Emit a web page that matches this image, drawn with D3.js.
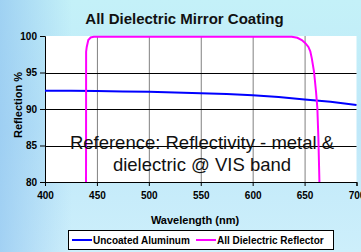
<!DOCTYPE html>
<html><head><meta charset="utf-8">
<script src="https://cdn.jsdelivr.net/npm/d3@7"></script>
<style>html,body{margin:0;padding:0;overflow:hidden}svg{display:block}</style>
</head><body>
<script>
const title = "All Dielectric Mirror Coating";
const xTicks = [400,450,500,550,600,650,700];
const yTicks = [80,85,90,95,100];
const seriesNames = ["Uncoated Aluminum","All Dielectric Reflector"];
const alWave = [400,425,450,475,500,525,550,575,600,625,650,675,700];
const alRefl = [92.5,92.5,92.45,92.4,92.35,92.25,92.15,92.05,91.9,91.65,91.3,91.0,90.55];
const diWave = [439.5,439.6,440.2,441.7,444,447,450,500,550,600,630,637.7,643,647.3,650.5,653.7,655.5,657,659.1,661,662.3,663.3,664.3,665.3];
const diRefl = [75,97.85,98.5,99.45,99.8,99.9,99.9,99.9,99.9,99.9,99.9,99.9,99.75,99.45,99.05,98.5,97.9,96.9,95.1,92.4,90.1,86,80,75];
const noteLines = ["Reference: Reflectivity - metal &","dielectric @ VIS band"];

const W=361,H=252;
const svg=d3.select("body").append("svg").attr("width",W).attr("height",H);
const defs=svg.append("defs");
const g1=defs.append("linearGradient").attr("id","bgv").attr("x1",0).attr("y1",0).attr("x2",0).attr("y2",1);
g1.append("stop").attr("offset",0).attr("stop-color","#c4f1f8");
g1.append("stop").attr("offset",0.5).attr("stop-color","#bfe8f9");
g1.append("stop").attr("offset",1).attr("stop-color","#cdeffb");
const g2=defs.append("linearGradient").attr("id","bgh").attr("x1",0).attr("y1",0).attr("x2",1).attr("y2",0);
g2.append("stop").attr("offset",0).attr("stop-color","#90c4f0").attr("stop-opacity",0.7);
g2.append("stop").attr("offset",0.2).attr("stop-color","#90c4f0").attr("stop-opacity",0);
svg.append("rect").attr("width",W).attr("height",H).attr("fill","url(#bgv)");
svg.append("rect").attr("width",W).attr("height",H).attr("fill","url(#bgh)");

const L=45,R=356.5,T=36,B=182;
const x=d3.scaleLinear().domain([400,700]).range([L,R]);
const y=d3.scaleLinear().domain([80,100]).range([B,T]);

svg.append("rect").attr("x",L).attr("y",T).attr("width",R-L).attr("height",B-T).attr("fill","#fff");

// gridlines
svg.append("g").selectAll("line").data(xTicks.filter(d=>d>400&&d<700)).join("line")
  .attr("x1",d=>x(d)+0.5).attr("x2",d=>x(d)+0.5).attr("y1",T).attr("y2",B)
  .attr("stroke","#808080").attr("stroke-width",1);
svg.append("g").selectAll("line").data(yTicks.filter(d=>d>80&&d<100)).join("line")
  .attr("x1",L).attr("x2",R).attr("y1",d=>Math.round(y(d))+0.5).attr("y2",d=>Math.round(y(d))+0.5)
  .attr("stroke","#000").attr("stroke-width",1);

// axes
const fontF="'Liberation Sans', Arial, sans-serif";
const ya=svg.append("g").attr("transform",`translate(${L},0)`)
  .call(d3.axisLeft(y).tickValues(yTicks).tickSize(5).tickPadding(3).tickFormat(d3.format("d")));
ya.select(".domain").attr("stroke","#000");
ya.selectAll("line").attr("stroke","#000");
ya.selectAll("text").attr("font-family",fontF).attr("font-size",10).attr("font-weight","bold").attr("fill","#000");
const xa=svg.append("g").attr("transform",`translate(0,${B})`)
  .call(d3.axisBottom(x).tickValues(xTicks).tickSize(4).tickPadding(6).tickFormat(d3.format("d")));
xa.select(".domain").attr("stroke","#000");
xa.selectAll("line").attr("stroke","#000");
xa.selectAll("text").attr("font-family",fontF).attr("font-size",10).attr("font-weight","bold").attr("fill","#000");

// clip
defs.append("clipPath").attr("id","clip").append("rect").attr("x",L).attr("y",T-3).attr("width",R-L+2).attr("height",B-T+3);

const line=d3.line().x(d=>x(d[0])).y(d=>y(d[1]));
const plot=svg.append("g").attr("clip-path","url(#clip)");
plot.append("path").datum(alWave.map((w,i)=>[w,alRefl[i]])).attr("d",line)
  .attr("fill","none").attr("stroke","#0000ff").attr("stroke-width",2);
plot.append("path").datum(diWave.map((w,i)=>[w,diRefl[i]])).attr("d",line)
  .attr("fill","none").attr("stroke","#ff00ff").attr("stroke-width",2);

// note
svg.append("g").selectAll("text").data(noteLines).join("text")
  .attr("x",202).attr("y",(d,i)=>149+i*22).attr("text-anchor","middle")
  .attr("font-family",fontF).attr("font-size",18.5).attr("fill","#111").text(d=>d);

// title
svg.append("text").attr("x",184.5).attr("y",24).attr("text-anchor","middle")
  .attr("font-family",fontF).attr("font-size",15).attr("font-weight","bold").attr("fill","#111").text(title);
svg.append("text").attr("x",195).attr("y",224).attr("text-anchor","middle")
  .attr("font-family",fontF).attr("font-size",11).attr("font-weight","bold").attr("fill","#000").text("Wavelength (nm)");
svg.append("text").attr("transform","translate(22,105) rotate(-90)").attr("text-anchor","middle")
  .attr("font-family",fontF).attr("font-size",11).attr("font-weight","bold").attr("fill","#000").text("Reflection %");

// legend
const lg=svg.append("g");
lg.append("rect").attr("x",68.5).attr("y",230.5).attr("width",265).attr("height",19).attr("fill","#fff").attr("stroke","#000");
const colors=["#0000ff","#ff00ff"];
const lx=[72,196];
seriesNames.forEach((n,i)=>{
  lg.append("line").attr("x1",lx[i]).attr("x2",lx[i]+20).attr("y1",240).attr("y2",240).attr("stroke",colors[i]).attr("stroke-width",2);
  lg.append("text").attr("x",lx[i]+21).attr("y",243.5).attr("font-family",fontF).attr("font-size",10).attr("font-weight","bold").attr("fill","#000").text(n);
});
</script>
</body></html>
